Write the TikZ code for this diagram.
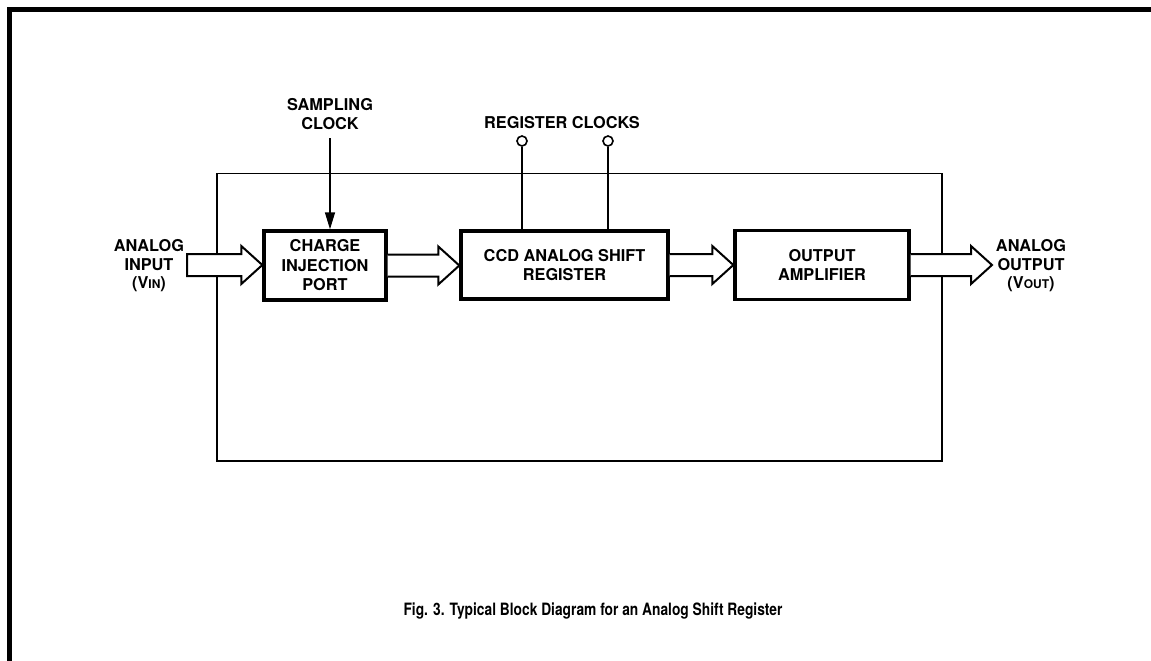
\documentclass[tikz,border=0pt]{standalone}
\usepackage{fontspec}
\setmainfont{TeX Gyre Heros}
\usetikzlibrary{calc,arrows.meta}
\tikzset{
  lbl/.style={font=\fontsize{16.3}{18.5}\selectfont\bfseries, align=center, inner sep=0pt},
  blk/.style={draw, line width=3.4pt, fill=white, font=\fontsize{16.3}{19.5}\selectfont\bfseries, align=center},
  thin/.style={line width=1.2pt},
  wire/.style={line width=1.5pt},
  barr/.style={line width=2pt, line join=miter},
  pin/.style={circle, draw, line width=1.6pt, fill=white, minimum size=10pt, inner sep=0pt},
}
% open block arrow: from (#1) to tip at x of (#2)
\newcommand\barrowopen[2]{%
  \fill[white] let \p1=(#1), \p2=(#2) in (\x1,\y1+11pt) -- (\x2-21pt,\y1+11pt) -- (\x2-21pt,\y1+19pt) -- (\x2,\y1) -- (\x2-21pt,\y1-19pt) -- (\x2-21pt,\y1-11pt) -- (\x1,\y1-11pt) -- cycle;
  \draw[barr] let \p1=(#1), \p2=(#2) in (\x1,\y1+11pt) -- (\x2-21pt,\y1+11pt) -- (\x2-21pt,\y1+19pt) -- (\x2,\y1) -- (\x2-21pt,\y1-19pt) -- (\x2-21pt,\y1-11pt) -- (\x1,\y1-11pt);}
\newcommand\barrowclosed[2]{%
  \draw[barr, fill=white] let \p1=(#1), \p2=(#2) in (\x1,\y1+11pt) -- (\x2-21pt,\y1+11pt) -- (\x2-21pt,\y1+19pt) -- (\x2,\y1) -- (\x2-21pt,\y1-19pt) -- (\x2-21pt,\y1-11pt) -- (\x1,\y1-11pt) -- cycle;}
\begin{document}
\begin{tikzpicture}[x=1pt,y=-1pt]
\useasboundingbox (0,0) rectangle (1151,661);
% outer frame (left and top edges)
\draw[line width=5pt] (9.5,661) -- (9.5,9.5) -- (1151,9.5);
% chip outline
\draw[thin] (217,173.5) rectangle (942,461);
% blocks
\node[blk, minimum width=122, minimum height=69] (cip) at (325,265.5) {CHARGE\\INJECTION\\PORT};
\node[blk, minimum width=207, minimum height=68] (ccd) at (564.5,265) {CCD ANALOG SHIFT\\REGISTER};
\node[blk, minimum width=174, minimum height=69] (amp) at (822,265) {OUTPUT\\AMPLIFIER};
% terminals
\coordinate (vin) at (187,265);
\coordinate (vout) at (992,265);
\coordinate (sc) at (330,138);
\node[pin] (rc1) at (522,141) {};
\node[pin] (rc2) at (608,141) {};
% block arrows
\barrowclosed{vin}{cip.west}
\barrowopen{cip.east}{ccd.west}
\barrowopen{ccd.east}{amp.west}
\barrowopen{amp.east}{vout}
% clock lines
\draw[wire, -{Triangle[length=17pt,width=10pt]}] (sc) -- (sc |- cip.north);
\draw[wire] (rc1.south) -- (rc1.south |- ccd.north);
\draw[wire] (rc2.south) -- (rc2.south |- ccd.north);
% labels
\node[lbl] (lsc) at (330,114) {SAMPLING\\CLOCK};
\node[lbl] (lrc) at (562,123) {REGISTER CLOCKS};
\node[lbl] (lin) at (149,266) {ANALOG\\INPUT\\(V{\fontsize{12}{12}\selectfont IN})};
\node[lbl] (lout) at (1031,266) {ANALOG\\OUTPUT\\(V{\fontsize{12}{12}\selectfont OUT})};
\node[font=\fontsize{17}{19}\selectfont\bfseries, inner sep=0pt] (cap) at (593,611) {\scalebox{0.81}[1]{Fig. 3. Typical Block Diagram for an Analog Shift Register}};
\end{tikzpicture}
\end{document}
